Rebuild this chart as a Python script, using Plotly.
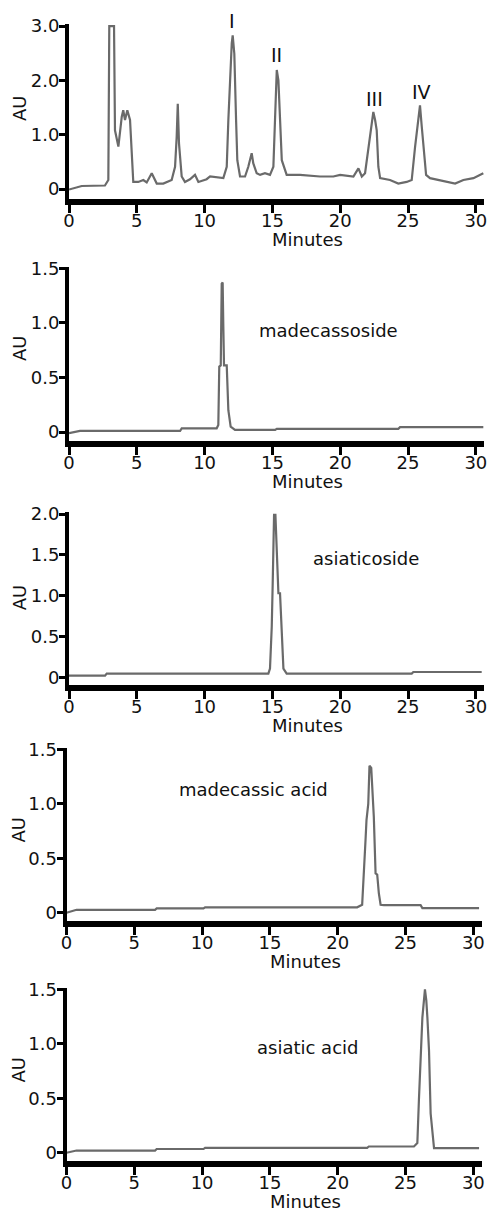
import plotly.graph_objects as go

# ---------------- data ----------------
x_ticks = [0, 5, 10, 15, 20, 25, 30]
x_ticktext = ["0", "5", "10", "15", "20", "25", "30"]

# Panel 1: extract chromatogram
t1 = [0, 0.94, 2.65, 2.90, 2.97, 3.32, 3.39, 3.64, 3.89, 4.00, 4.13, 4.30, 4.50, 4.62, 4.74,
      5.11, 5.48, 5.73, 6.10, 6.47, 6.95, 7.57, 7.82, 7.94, 8.02, 8.11, 8.31, 8.55, 8.92, 9.29,
      9.54, 10.15, 10.40, 11.38, 11.63, 11.75, 11.87, 12.00, 12.07, 12.19, 12.32, 12.41, 12.61,
      12.98, 13.22, 13.47, 13.59, 13.84, 14.09, 14.45, 14.82, 15.07, 15.19, 15.32, 15.44, 15.56,
      15.69, 16.05, 17.04, 18.51, 19.49, 19.99, 20.72, 20.97, 21.34, 21.59, 21.83, 22.07, 22.32,
      22.44, 22.57, 22.69, 22.81, 22.94, 23.67, 24.28, 24.90, 25.27, 25.52, 25.72, 25.88, 26.01,
      26.13, 26.33, 26.62, 27.36, 28.47, 29.08, 29.82, 30.55]
au1 = [-0.01, 0.055, 0.064, 0.165, 3.0, 3.0, 1.08, 0.78, 1.33, 1.45, 1.27, 1.45, 1.27, 0.66, 0.13,
       0.13, 0.165, 0.12, 0.29, 0.10, 0.10, 0.165, 0.41, 0.96, 1.57, 0.84, 0.23, 0.13, 0.18, 0.26,
       0.13, 0.18, 0.23, 0.20, 0.41, 1.27, 2.0, 2.68, 2.83, 2.49, 1.27, 0.53, 0.23,
       0.23, 0.41, 0.66, 0.47, 0.29, 0.26, 0.29, 0.26, 0.41, 1.27, 2.19, 2.0, 1.21,
       0.53, 0.26, 0.26, 0.23, 0.23, 0.26, 0.23, 0.23, 0.38, 0.23, 0.29, 0.78, 1.27,
       1.42, 1.27, 1.08, 0.41, 0.20, 0.165, 0.10, 0.13, 0.165, 0.78, 1.27, 1.54, 1.15,
       0.78, 0.26, 0.20, 0.165, 0.10, 0.165, 0.20, 0.29]
peak_labels = ["I", "II", "III", "IV"]
peak_label_t = [12.02, 15.27, 22.49, 25.96]
peak_label_au = [3.09, 2.46, 1.65, 1.78]

# Panel 2: madecassoside standard
t2 = [0, 0.81, 8.19, 8.31, 10.89, 11.01, 11.08, 11.19, 11.26, 11.33, 11.38, 11.43, 11.63, 11.75,
      11.92, 12.24, 15.20, 15.32, 24.28, 24.41, 30.55]
au2 = [-0.01, 0.01, 0.01, 0.034, 0.034, 0.064, 0.60, 0.61, 1.36, 1.37, 0.96, 0.61, 0.61, 0.20,
       0.05, 0.02, 0.02, 0.03, 0.03, 0.045, 0.045]

# Panel 3: asiaticoside standard
t3 = [0, 2.66, 2.78, 14.70, 14.82, 14.95, 15.02, 15.12, 15.22, 15.27, 15.36, 15.44, 15.56, 15.69,
      15.81, 16.05, 25.27, 25.39, 30.43]
au3 = [0.02, 0.02, 0.045, 0.045, 0.107, 0.62, 1.15, 1.99, 1.99, 1.81, 1.36, 1.03, 1.03, 0.45,
       0.107, 0.045, 0.045, 0.065, 0.065]

# Panel 4: madecassic acid standard
t4 = [0, 0.74, 6.53, 6.65, 10.10, 10.22, 21.43, 21.80, 22.05, 22.12, 22.25, 22.34, 22.47, 22.54,
      22.66, 22.79, 22.91, 23.03, 23.16, 23.40, 26.11, 26.24, 30.42]
au4 = [0.0, 0.027, 0.027, 0.04, 0.04, 0.05, 0.05, 0.073, 0.67, 0.85, 1.0, 1.35, 1.33, 1.15,
       0.88, 0.36, 0.35, 0.18, 0.073, 0.07, 0.07, 0.043, 0.043]

# Panel 5: asiatic acid standard
t5 = [0, 0.74, 6.53, 6.65, 10.10, 10.22, 22.17, 22.29, 25.62, 25.87, 25.99, 26.11, 26.24, 26.43,
      26.53, 26.61, 26.73, 26.85, 26.98, 27.10, 30.42]
au5 = [0.0, 0.02, 0.02, 0.034, 0.034, 0.045, 0.045, 0.057, 0.057, 0.088, 0.50, 0.82, 1.24, 1.50,
       1.40, 1.24, 0.94, 0.36, 0.15, 0.043, 0.043]

compound_names = [None, "madecassoside", "asiaticoside", "madecassic acid", "asiatic acid"]
compound_t = [None, 19.14, 21.87, 13.77, 17.76]
compound_au = [None, 0.93, 1.45, 1.13, 0.965]

y_tickvals = [[0, 1, 2, 3], [0, 0.5, 1.0, 1.5], [0, 0.5, 1.0, 1.5, 2.0], [0, 0.5, 1.0, 1.5], [0, 0.5, 1.0, 1.5]]
y_ticktext = [["0", "1.0", "2.0", "3.0"], ["0", "0.5", "1.0", "1.5"], ["0", "0.5", "1.0", "1.5", "2.0"],
              ["0", "0.5", "1.0", "1.5"], ["0", "0.5", "1.0", "1.5"]]

# ---------------- layout geometry ----------------
W, H = 498, 1213
x_dom_px = [(69, 484), (69, 484), (69, 484), (66.5, 481.5), (66.5, 481.5)]
y_dom_px = [(199, 24.4), (441, 266.7), (685, 512.4), (921, 747.7), (1161, 987.7)]  # (bottom, top)
y_ranges = [[-0.184, 3.03], [-0.082, 1.515], [-0.094, 2.02], [-0.076, 1.515], [-0.076, 1.515]]
x_range = [0, 30.6]
au_title_y = [1.49, 0.77, 0.98, 0.76, 0.76]
au_title_shift = [-50, -50, -50, -48, -48]
minutes_t = 17.6
au_per_px_panel1 = (y_ranges[0][1] - y_ranges[0][0]) / (y_dom_px[0][0] - y_dom_px[0][1])

FONT = "DejaVu Sans"
TXT = "#111111"
LINE = "#6a6a6a"

series = [(t1, au1), (t2, au2), (t3, au3), (t4, au4), (t5, au5)]

fig = go.Figure()
layout = dict(
    width=W, height=H, margin=dict(l=0, r=0, t=0, b=0, pad=0), autosize=False,
    paper_bgcolor="white", plot_bgcolor="white", showlegend=False,
    font=dict(family=FONT, size=18, color=TXT),
)
annotations = []

for i, (tx, ay) in enumerate(series):
    n = i + 1
    xa = "x" if n == 1 else f"x{n}"
    ya = "y" if n == 1 else f"y{n}"
    fig.add_trace(go.Scatter(x=tx, y=ay, mode="lines", xaxis=xa, yaxis=ya,
                             line=dict(color=LINE, width=2.2), hoverinfo="skip"))
    xl, xr = x_dom_px[i]
    yb, yt = y_dom_px[i]
    layout["xaxis" if n == 1 else f"xaxis{n}"] = dict(
        domain=[xl / W, xr / W], range=x_range, anchor=ya, automargin=False,
        showgrid=False, zeroline=False, showline=True, linecolor="black", linewidth=6,
        ticks="outside", ticklen=8, tickwidth=3, tickcolor="black", ticklabelstandoff=-8,
        tickvals=x_ticks, ticktext=x_ticktext, tickfont=dict(family=FONT, size=18, color=TXT),
        fixedrange=True,
    )
    layout["yaxis" if n == 1 else f"yaxis{n}"] = dict(
        domain=[1 - yb / H, 1 - yt / H], range=y_ranges[i], anchor=xa, automargin=False,
        showgrid=False, zeroline=False, showline=True, linecolor="black", linewidth=4,
        ticks="outside", ticklen=6, tickwidth=3, tickcolor="black", ticklabelstandoff=-4,
        tickvals=y_tickvals[i], ticktext=y_ticktext[i], tickfont=dict(family=FONT, size=18, color=TXT),
        fixedrange=True,
    )
    # axis titles
    annotations.append(dict(text="Minutes", xref=xa, yref=f"{ya} domain", x=minutes_t, y=0,
                            yanchor="middle", xanchor="center", yshift=-40, showarrow=False,
                            font=dict(family=FONT, size=18, color=TXT)))
    annotations.append(dict(text="AU", xref=f"{xa} domain", yref=ya, x=0, y=au_title_y[i],
                            xanchor="center", yanchor="middle", xshift=au_title_shift[i],
                            textangle=-90, showarrow=False,
                            font=dict(family=FONT, size=18, color=TXT)))
    if compound_names[i]:
        annotations.append(dict(text=compound_names[i], xref=xa, yref=ya, x=compound_t[i],
                                y=compound_au[i], xanchor="center", yanchor="middle",
                                showarrow=False, font=dict(family=FONT, size=18, color=TXT)))

# peak labels (anchor kept inside the axis range, then shifted to the read position)
for lab, lx, ly in zip(peak_labels, peak_label_t, peak_label_au):
    anchor_y = min(ly, 3.0)
    annotations.append(dict(text=lab, xref="x", yref="y", x=lx, y=anchor_y,
                            yshift=(ly - anchor_y) / au_per_px_panel1, xanchor="center",
                            yanchor="middle", showarrow=False,
                            font=dict(family=FONT, size=19, color=TXT)))

layout["annotations"] = annotations
fig.update_layout(**layout)
fig.write_html("out.html", config={"displayModeBar": False},
               post_script="document.body.style.margin='0px';document.body.style.padding='0px';")
